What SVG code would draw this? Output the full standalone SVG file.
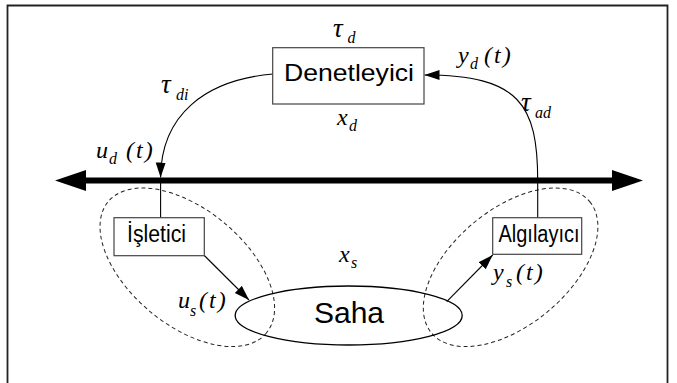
<svg xmlns="http://www.w3.org/2000/svg" width="677" height="383" viewBox="0 0 677 383">
<style>
.box{fill:#fff;stroke:#444;stroke-width:1.2}
.lbl{font-family:"Liberation Sans",Arial,sans-serif;fill:#000}
.m{font-family:"Liberation Serif","Times New Roman",serif;font-style:italic;font-size:24px;fill:#000}
.t{font-family:"Liberation Serif","Times New Roman",serif;font-style:italic;font-size:27px;fill:#000}
.s{font-family:"Liberation Serif","Times New Roman",serif;font-style:italic;font-size:16px;fill:#000}
.ln{fill:none;stroke:#000;stroke-width:1.1}
.grp{fill:none;stroke:#222;stroke-width:1;stroke-dasharray:4 3}
</style>
<defs>
<marker id="arr" markerUnits="userSpaceOnUse" markerWidth="16" markerHeight="11" refX="15" refY="5" orient="auto">
<path d="M0,0 L15,5 L0,10 z" fill="#000"/>
</marker>
</defs>
<rect x="0" y="0" width="677" height="383" fill="#fff"/>
<path d="M7.5,390 L7.5,5.5 L667.5,5.5 L667.5,390" fill="none" stroke="#222" stroke-width="1.8"/>

<g id="groups">
<ellipse class="grp" cx="187.3" cy="267.3" rx="102.8" ry="57.8" transform="rotate(39.7 187.3 267.3)"/>
<ellipse class="grp" cx="510.6" cy="267.3" rx="102.8" ry="57.8" transform="rotate(-39.7 510.6 267.3)"/>
</g>

<g id="connectors">
<line x1="85" y1="180.5" x2="613" y2="180.5" stroke="#000" stroke-width="6"/>
<polygon points="55,180.5 86,170 86,191" fill="#000"/>
<polygon points="643,180.5 612,170 612,191" fill="#000"/>
<path class="ln" d="M273,74 C205,80 161,115 160.6,177.5" marker-end="url(#arr)"/>
<line class="ln" x1="160.6" y1="180" x2="160.6" y2="218"/>
<path class="ln" d="M537.7,218 L537.7,181 C537.7,105 520,75 424.5,75" marker-end="url(#arr)"/>
<line class="ln" x1="204.3" y1="255.5" x2="249" y2="300" marker-end="url(#arr)"/>
<line class="ln" x1="446.7" y1="301.7" x2="492.7" y2="255" marker-end="url(#arr)"/>
</g>

<g id="denetleyici">
<rect class="box" x="272.7" y="47.7" width="151.3" height="56.3"/>
<text class="lbl" x="284" y="81" font-size="24" textLength="130" lengthAdjust="spacingAndGlyphs">Denetleyici</text>
</g>
<g id="isletici">
<rect class="box" x="114" y="217.7" width="90.3" height="38"/>
<text class="lbl" x="127" y="242.3" font-size="23" textLength="59" lengthAdjust="spacingAndGlyphs">İşletici</text>
</g>
<g id="algilayici">
<rect class="box" x="492.7" y="217.7" width="89" height="36.6"/>
<text class="lbl" x="498.5" y="242.3" font-size="23" textLength="81" lengthAdjust="spacingAndGlyphs">Algılayıcı</text>
</g>
<g id="saha">
<ellipse cx="348.7" cy="315.5" rx="113.5" ry="29.5" fill="none" stroke="#000" stroke-width="1.3"/>
<text class="lbl" x="349" y="323.3" font-size="30" text-anchor="middle">Saha</text>
</g>

<g id="labels">
<text class="t" x="333" y="37">τ</text><text class="s" x="347.5" y="43">d</text>
<text class="m" x="337" y="125">x</text><text class="s" x="349" y="131">d</text>
<text class="t" x="161" y="93">τ</text><text class="s" x="176" y="100">di</text>
<text class="m" x="96" y="158">u</text><text class="s" x="109" y="164">d</text><text class="m" x="126" y="158" letter-spacing="2">(t)</text>
<text class="m" x="458" y="63">y</text><text class="s" x="470" y="69">d</text><text class="m" x="484" y="63" letter-spacing="2">(t)</text>
<text class="t" x="521" y="111">τ</text><text class="s" x="535" y="118">ad</text>
<text class="m" x="178" y="308">u</text><text class="s" x="190" y="316">s</text><text class="m" x="199" y="308" letter-spacing="2">(t)</text>
<text class="m" x="493" y="280">y</text><text class="s" x="506" y="287">s</text><text class="m" x="516" y="280" letter-spacing="2">(t)</text>
<text class="m" x="339" y="262">x</text><text class="s" x="351" y="268">s</text>
</g>
</svg>
